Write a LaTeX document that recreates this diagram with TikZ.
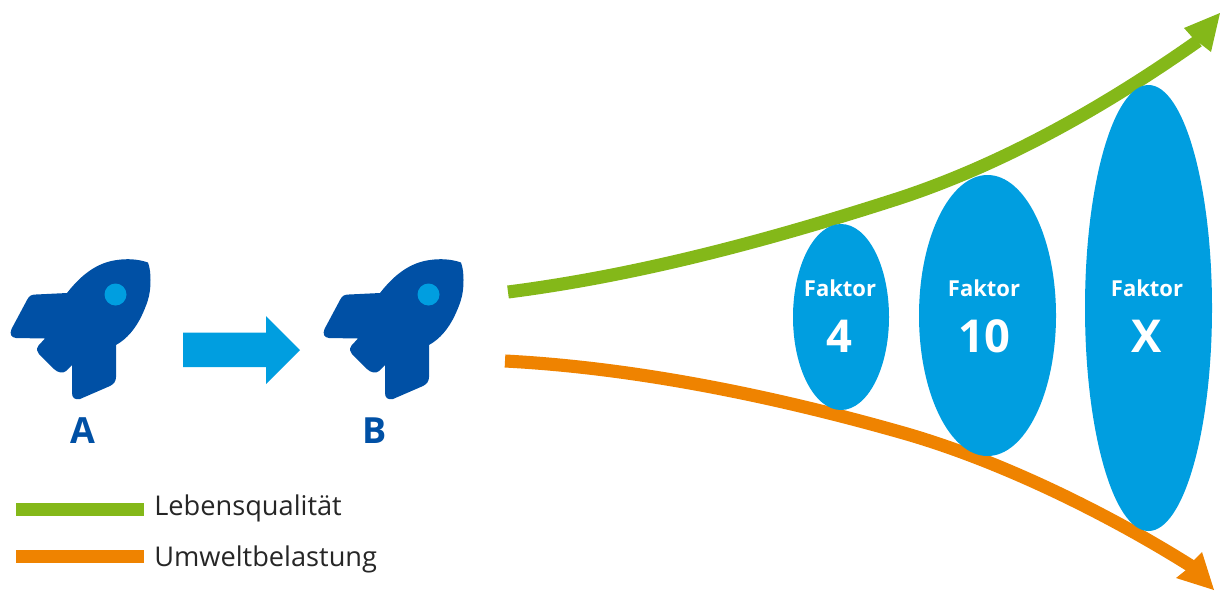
\documentclass[tikz,border=0pt]{standalone}
\usepackage{fontspec}
\setmainfont{Open Sans}
\definecolor{rocketblue}{HTML}{0050A5}
\definecolor{skyblue}{HTML}{009EE0}
\definecolor{lifegreen}{HTML}{84B819}
\definecolor{envorange}{HTML}{EF8300}
\usetikzlibrary{shapes.geometric}
\tikzset{
  factor/.style={ellipse,fill=skyblue,inner sep=0pt},
  factorword/.style={text=white,font=\bfseries\fontsize{16.5}{16.5}\selectfont,inner sep=0pt},
  factornum/.style={text=white,font=\bfseries\fontsize{34}{34}\selectfont,inner sep=0pt},
  biglabel/.style={text=rocketblue,font=\bfseries\fontsize{27}{27}\selectfont,inner sep=0pt},
  legendtext/.style={anchor=west,text=black!85,font=\fontsize{20.4}{20.4}\selectfont,inner sep=0pt},
  legendbar/.style={line width=9.4pt},
  flowline/.style={line width=9.8pt},
}
\newcommand{\rocketshape}[2]{%
  \begin{scope}[shift={(#1,#2)}]
  \fill[rocketblue]
    (148,262.5) .. controls (138,259) and (127,258.5) .. (117,260)
    .. controls (97,262.5) and (81,275) .. (67,293)
    -- (36,294.5) .. controls (31,294.5) and (29,296) .. (27,300)
    -- (11.5,329) .. controls (9.5,334) and (11,337.5) .. (16,338)
    -- (45,338.5) -- (38.5,345.5) .. controls (36,349) and (37,352) .. (39,354)
    -- (54,369) .. controls (58,373) and (63,373.5) .. (66,371)
    -- (72,365) -- (72,393) .. controls (72,398) and (75,400) .. (80,399)
    -- (110,386) .. controls (114,384) and (116,381) .. (116,377)
    -- (116,345) .. controls (127,339) and (136,328) .. (142,315)
    .. controls (149,300) and (150.5,292) .. (150.5,280)
    .. controls (150.5,274) and (150,268) .. (148,262.5) -- cycle;
  \fill[skyblue] (115.5,294.5) circle (11);
  \end{scope}}
\begin{document}
\begin{tikzpicture}[x=0.75pt,y=-0.75pt]
\useasboundingbox (0,0) rectangle (1220,590);
% curves
\coordinate (gs) at (508,292);
\coordinate (gm) at (900,198);
\coordinate (ge) at (1198,41);
\coordinate (os) at (505,361);
\coordinate (om) at (900,432);
\coordinate (oe) at (1191,566);
\draw[lifegreen,flowline] (gs) .. controls (640,275) and (770,240) .. (gm) .. controls (1000,165) and (1100,110) .. (ge);
\fill[lifegreen] (1220,13) -- (1184,28) -- (1192,37) -- (1202,45) -- (1211,52) -- cycle;
\draw[envorange,flowline] (os) .. controls (640,368) and (780,398) .. (om) .. controls (1000,460) and (1110,515) .. (oe);
\fill[envorange] (1214,590) -- (1176,578) -- (1186,570) -- (1193,561) -- (1202,552) -- cycle;
% factors
\node[factor,minimum width=72pt,minimum height=139.5pt] (f4) at (841,317) {};
\node[factor,minimum width=102.75pt,minimum height=210.75pt] (f10) at (987.5,315.5) {};
\node[factor,minimum width=95.25pt,minimum height=334.5pt] (fx) at (1148.5,308) {};
\node[factorword] (t4a) at (840,288.5) {Faktor};
\node[factornum] (t4b) at (839.5,336) {4};
\node[factorword] (t10a) at (984,288.5) {Faktor};
\node[factornum] (t10b) at (984,336) {10};
\node[factorword] (txa) at (1147,288.5) {Faktor};
\node[factornum] (txb) at (1147,336) {X};
% rockets
\rocketshape{0}{0}
\rocketshape{313}{0}
\node[biglabel] (a) at (83,431) {A};
\node[biglabel] (b) at (375,431) {B};
% block arrow
\fill[skyblue] (183,332.5) -- (266,332.5) -- (266,316) -- (300,350) -- (266,384) -- (266,367) -- (183,367) -- cycle;
% legend
\coordinate (l1a) at (16,509.5);
\coordinate (l1b) at (144,509.5);
\coordinate (l2a) at (16,556.5);
\coordinate (l2b) at (144,556.5);
\draw[lifegreen,legendbar] (l1a) -- (l1b);
\draw[envorange,legendbar] (l2a) -- (l2b);
\node[legendtext] (lq) at (154,508.5) {Lebensqualität};
\node[legendtext] (ub) at (154,559) {Umweltbelastung};
\end{tikzpicture}
\end{document}
